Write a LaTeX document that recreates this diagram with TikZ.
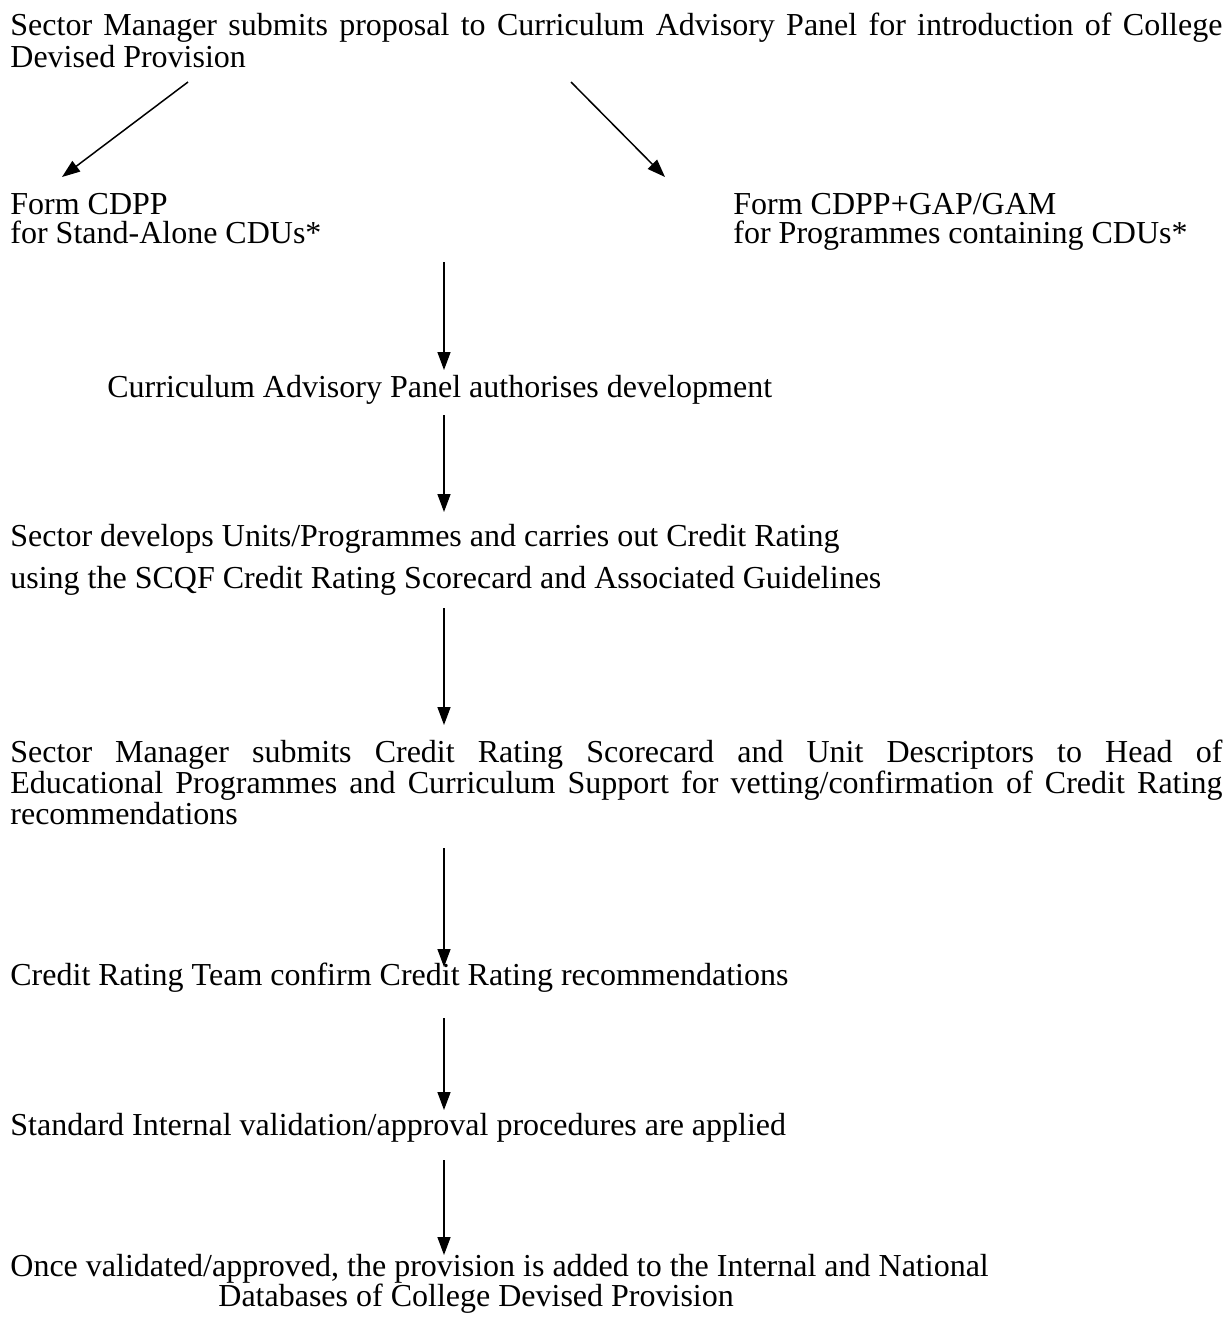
\documentclass[tikz,border=0pt]{standalone}
\usepackage{fontspec}
\setmainfont{Liberation Serif}
\usetikzlibrary{arrows.meta}

\begin{document}
\begin{tikzpicture}[x=0.5pt,y=-0.5pt,
    txt/.style={anchor=base west,inner sep=0pt,align=left,font=\fontsize{16}{14.5}\selectfont},
    flow/.style={line width=0.75pt,-{Triangle[length=9pt,width=6.5pt]}}
  ]
  \useasboundingbox[fill=white] (0,0) rectangle (1227,1324);
  % proposal (base = last line)
  \node[txt] (prop) at (10,67) {\makebox[606pt][s]{Sector Manager submits proposal to Curriculum Advisory Panel for introduction of College}\\
    Devised Provision};
  % two forms
  \node[txt] (cdpp) at (10,243) {Form CDPP\\for Stand-Alone CDUs*};
  \node[txt] (gap) at (733,243) {Form CDPP+GAP/GAM\\for Programmes containing CDUs*};
  % steps
  \node[txt] (auth) at (107,397) {Curriculum Advisory Panel authorises development};
  \node[txt,font=\fontsize{16}{21}\selectfont] (dev) at (10,588) {Sector develops Units/Programmes and carries out Credit Rating\\
    using the SCQF Credit Rating Scorecard and Associated Guidelines};
  \node[txt,font=\fontsize{16}{15.5}\selectfont] (sub) at (10,824) {\makebox[606pt][s]{Sector Manager submits Credit Rating Scorecard and Unit Descriptors to Head of}\\
    \makebox[606pt][s]{Educational Programmes and Curriculum Support for vetting/confirmation of Credit Rating}\\
    recommendations};
  \node[txt] (team) at (10,985) {Credit Rating Team confirm Credit Rating recommendations};
  \node[txt] (valid) at (10,1135) {Standard Internal validation/approval procedures are applied};
  \node[txt,font=\fontsize{16}{15}\selectfont] (db) at (10,1306) {Once validated/approved, the provision is added to the Internal and National\\
    \hspace*{104pt}Databases of College Devised Provision};
  % arrow ends
  \coordinate (pl) at (188,82);   \coordinate (fl) at (62,177);
  \coordinate (pr) at (571,82);   \coordinate (fr) at (665,177);
  \coordinate (s1) at (444,262);  \coordinate (e1) at (444,370);
  \coordinate (s2) at (444,415);  \coordinate (e2) at (444,512);
  \coordinate (s3) at (444,608);  \coordinate (e3) at (444,725);
  \coordinate (s4) at (444,848);  \coordinate (e4) at (444,967);
  \coordinate (s5) at (444,1018); \coordinate (e5) at (444,1110);
  \coordinate (s6) at (444,1160); \coordinate (e6) at (444,1255);
  \draw[flow] (pl) -- (fl);
  \draw[flow] (pr) -- (fr);
  \foreach \i in {1,...,6}
    \draw[flow] (s\i) -- (e\i);
\end{tikzpicture}
\end{document}
